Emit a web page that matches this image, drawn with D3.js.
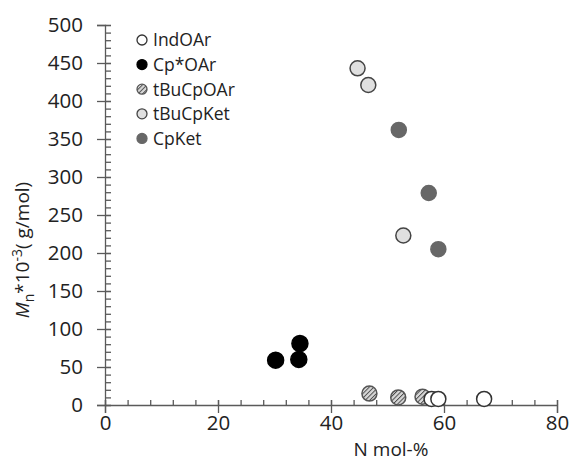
<!DOCTYPE html>
<html>
<head>
<meta charset="utf-8">
<script src="https://cdn.jsdelivr.net/npm/d3@7/dist/d3.min.js"></script>
<style>
  body { margin: 0; background: #fff; }
  text { font-family: "Open Sans", sans-serif; fill: #222; }
</style>
</head>
<body>
<script>
// series data: [N mol-%, Mn*10^-3]
var indOAr    = [[57.8, 8], [59.0, 8], [67.1, 8]];
var cpStarOAr = [[30.2, 59], [34.3, 60], [34.5, 81]];
var tBuCpOAr  = [[46.8, 15], [51.9, 10], [56.2, 11]];
var tBuCpKet  = [[44.7, 443], [46.6, 421], [52.8, 223]];
var cpKet     = [[52.0, 362], [57.3, 279], [59.0, 205]];

var seriesNames = ["IndOAr", "Cp*OAr", "tBuCpOAr", "tBuCpKet", "CpKet"];
var xTicks = [0, 20, 40, 60, 80];
var yTicks = [0, 50, 100, 150, 200, 250, 300, 350, 400, 450, 500];

var width = 571, height = 463;

var svg = d3.select("body").append("svg")
    .attr("width", width)
    .attr("height", height);

// hatch for tBuCpOAr
var defs = svg.append("defs");
var pat = defs.append("pattern")
    .attr("id", "hatch")
    .attr("patternUnits", "userSpaceOnUse")
    .attr("width", 3.2).attr("height", 3.2)
    .attr("patternTransform", "rotate(45)");
pat.append("rect").attr("width", 3.2).attr("height", 3.2).attr("fill", "#d8d8d8");
pat.append("line").attr("x1", 0).attr("y1", 0).attr("x2", 0).attr("y2", 3.2)
    .attr("stroke", "#4a4a4a").attr("stroke-width", 1.9);

var styles = {
  "IndOAr":   { fill: "#fff",        stroke: "#333", r: 7.5 },
  "Cp*OAr":   { fill: "#000",        stroke: "#000", r: 8 },
  "tBuCpOAr": { fill: "url(#hatch)", stroke: "#555", r: 7.5 },
  "tBuCpKet": { fill: "#e0e0e0",     stroke: "#444", r: 7.5 },
  "CpKet":    { fill: "#676767",     stroke: "#676767", r: 7.5 }
};

var x = d3.scaleLinear().domain([0, 80]).range([105, 557]);
var y = d3.scaleLinear().domain([0, 500]).range([405, 25]);

var axisColor = "#5a5a5a";

// y axis: major ticks cross the line, minor ticks inside
var yAxis = svg.append("g")
    .attr("transform", "translate(" + x(0) + ",0)")
    .call(d3.axisLeft(y).tickValues(yTicks).tickSize(8).tickPadding(14));
yAxis.selectAll(".tick line").attr("x1", 6);
yAxis.selectAll(".tick text").style("font-size", "20.5px").attr("fill", "#222");

var yMinor = svg.append("g")
    .attr("transform", "translate(" + x(0) + ",0)")
    .call(d3.axisRight(y).tickValues(d3.range(0, 501, 10)).tickSize(6).tickFormat(""));
yMinor.select(".domain").remove();

// x axis
var xAxis = svg.append("g")
    .attr("transform", "translate(0," + y(0) + ")")
    .call(d3.axisBottom(x).tickValues(xTicks).tickSize(8).tickPadding(2));
xAxis.selectAll(".tick line").attr("y1", -5);
xAxis.selectAll(".tick text").style("font-size", "20.5px").attr("fill", "#222");

var xMinor = svg.append("g")
    .attr("transform", "translate(0," + y(0) + ")")
    .call(d3.axisTop(x).tickValues(d3.range(0, 81, 4)).tickSize(5).tickFormat(""));
xMinor.select(".domain").remove();

svg.selectAll(".domain, .tick line").attr("stroke", axisColor).attr("stroke-width", 1.3);

// points, drawn in series order with IndOAr last
var drawOrder = [
  ["Cp*OAr", cpStarOAr],
  ["tBuCpOAr", tBuCpOAr],
  ["tBuCpKet", tBuCpKet],
  ["CpKet", cpKet],
  ["IndOAr", indOAr]
];
drawOrder.forEach(function (s) {
  var st = styles[s[0]];
  svg.append("g").selectAll("circle")
    .data(s[1])
    .enter()
    .append("circle")
    .attr("cx", function (d) { return x(d[0]); })
    .attr("cy", function (d) { return y(d[1]); })
    .attr("r", st.r)
    .attr("fill", st.fill)
    .attr("stroke", st.stroke)
    .attr("stroke-width", 1.5);
});

// legend
var legend = svg.append("g").attr("transform", "translate(142,40)");
var item = legend.selectAll("g")
    .data(seriesNames)
    .enter()
    .append("g")
    .attr("transform", function (d, i) { return "translate(0," + i * 24.6 + ")"; });
item.append("circle")
    .attr("r", 5)
    .attr("fill", function (d) { return styles[d].fill; })
    .attr("stroke", function (d) { return styles[d].stroke; })
    .attr("stroke-width", 1.3);
item.append("text")
    .attr("x", 11)
    .attr("dy", "0.36em")
    .style("font-size", "17.5px")
    .text(function (d) { return d; });

// axis titles
svg.append("text")
    .attr("x", 391)
    .attr("y", 456)
    .attr("text-anchor", "middle")
    .style("font-size", "19px")
    .text("N mol-%");

var yt = svg.append("text")
    .attr("transform", "translate(29,250) rotate(-90)")
    .attr("text-anchor", "middle")
    .style("font-size", "19px");
yt.append("tspan").style("font-style", "italic").text("M");
yt.append("tspan").attr("dy", 5).style("font-size", "14px").text("n");
yt.append("tspan").attr("dy", -5).text("*10");
yt.append("tspan").attr("dy", -7).style("font-size", "14px").text("-3");
yt.append("tspan").attr("dy", 7).text("( g/mol)");
</script>
</body>
</html>
